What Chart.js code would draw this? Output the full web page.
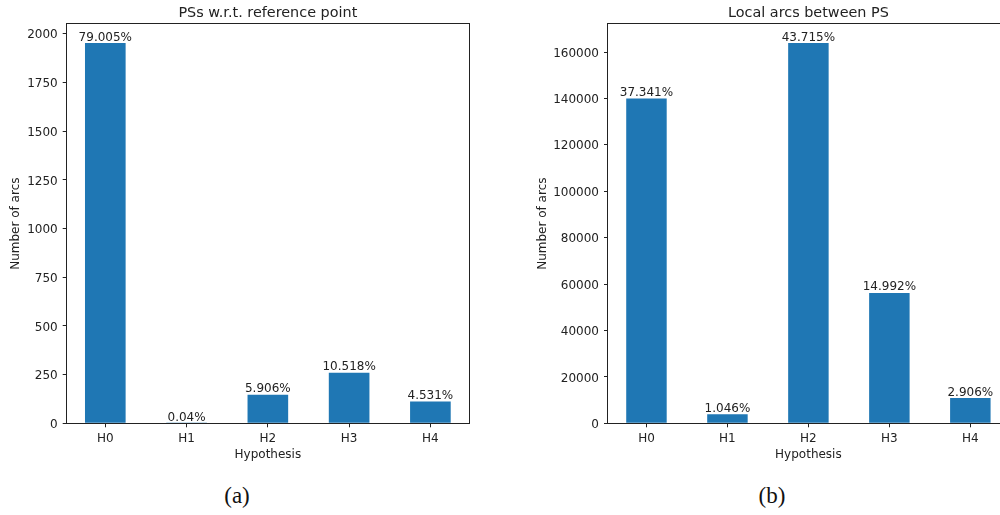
<!DOCTYPE html>
<html>
<head>
<meta charset="utf-8">
<script src="https://cdn.jsdelivr.net/npm/chart.js@4/dist/chart.umd.min.js"></script>
<style>
  html, body { margin: 0; padding: 0; background: #fff; overflow: hidden; }
  body { width: 1000px; height: 515px; position: relative; }
  .panel { position: absolute; top: 0; }
  .caption {
    position: absolute; top: 482px; width: 60px; margin-left: -30px;
    text-align: center; font-family: "Liberation Serif", serif; font-size: 23px;
    color: #111; line-height: 28px;
  }
</style>
</head>
<body>
<div class="panel" style="left:0px;width:500px;height:470px;"><canvas id="chartA"></canvas></div>
<div class="panel" style="left:500px;width:520px;height:470px;"><canvas id="chartB"></canvas></div>
<div class="caption" style="left:237px;">(a)</div>
<div class="caption" style="left:772px;">(b)</div>
<script>
// Hypothesis classes on the x axis
const categories = ['H0', 'H1', 'H2', 'H3', 'H4'];

// Arc counts per hypothesis: PS arcs to the reference point
const refPointArcs = [1953, 1, 146, 260, 112];
// Arc counts per hypothesis: local arcs between PS
const localArcs = [139991, 3921, 163888, 56205, 10895];

// Y tick values of each panel
const refPointTicks = [0, 250, 500, 750, 1000, 1250, 1500, 1750, 2000];
const localTicks = [0, 20000, 40000, 60000, 80000, 100000, 120000, 140000, 160000];

const refPointTitle = 'PSs w.r.t. reference point';
const localTitle = 'Local arcs between PS';
const xTitle = 'Hypothesis';
const yTitle = 'Number of arcs';

const FONT = 'DejaVu Sans';
const INK = '#222';
const TEXT_SIZE = 12;
const TITLE_SIZE = 14.4;
Chart.defaults.font.family = FONT;
Chart.defaults.color = INK;

// Percentage of the total, rounded to three decimals
function pctLabel(v, total) {
  return String(Math.round(v / total * 100 * 1000) / 1000) + '%';
}

// Writes each bar's share of the total just above the bar
const barLabels = {
  id: 'barLabels',
  afterDatasetsDraw(chart) {
    const ctx = chart.ctx;
    const values = chart.data.datasets[0].data.map(d => d.y);
    const total = values.reduce((a, b) => a + b, 0);
    const meta = chart.getDatasetMeta(0);
    ctx.save();
    ctx.font = TEXT_SIZE + 'px "' + FONT + '"';
    ctx.fillStyle = INK;
    ctx.textAlign = 'center';
    ctx.textBaseline = 'alphabetic';
    meta.data.forEach((bar, i) => {
      ctx.fillText(pctLabel(values[i], total), bar.x, bar.y - 2.5);
    });
    ctx.restore();
  }
};

// Closed frame around the plotting area
const frame = {
  id: 'frame',
  afterDraw(chart) {
    const a = chart.chartArea;
    const ctx = chart.ctx;
    ctx.save();
    ctx.strokeStyle = INK;
    ctx.lineWidth = 1;
    const l = Math.round(a.left) - 0.5, t = Math.round(a.top) - 0.5;
    const r = Math.round(a.right) + 0.5, b = Math.round(a.bottom) + 0.5;
    ctx.strokeRect(l, t, r - l, b - t);
    ctx.restore();
  }
};

function makeChart(id, title, values, yTicks, yAxisWidth, yTitleOffset, rightPad) {
  const points = values.map((v, i) => ({ x: i, y: v }));
  const yMax = Math.max(...values) * 1.05;
  const xMin = -0.25 - 0.05 * (categories.length - 0.5);
  const xMax = categories.length - 1 + 0.25 + 0.05 * (categories.length - 0.5);
  const titleLine = TITLE_SIZE * 1.2;
  return new Chart(document.getElementById(id), {
    type: 'bar',
    data: {
      datasets: [{
        data: points,
        backgroundColor: '#1f77b4',
        borderWidth: 0,
        categoryPercentage: 1,
        barPercentage: 0.5
      }]
    },
    options: {
      responsive: true,
      maintainAspectRatio: false,
      animation: false,
      devicePixelRatio: 1,
      layout: { padding: { left: 0, right: rightPad, top: 0, bottom: 6.7 } },
      plugins: {
        legend: { display: false },
        tooltip: { enabled: false },
        title: {
          display: true,
          text: title,
          fullSize: false,
          color: INK,
          font: { family: FONT, size: TITLE_SIZE, weight: 'normal', lineHeight: 1.2 },
          padding: { top: 13 - titleLine / 2, bottom: 24 - (13 - titleLine / 2) - titleLine }
        }
      },
      scales: {
        x: {
          type: 'linear',
          min: xMin,
          max: xMax,
          bounds: 'data',
          offset: false,
          grid: { offset: false, drawOnChartArea: false, drawTicks: true, tickLength: 4, color: INK, lineWidth: 1 },
          border: { display: false },
          afterBuildTicks(scale) { scale.ticks = categories.map((_, i) => ({ value: i })); },
          afterFit(scale) { scale.height = 40; },
          ticks: {
            padding: 4,
            maxRotation: 0,
            autoSkip: false,
            font: { size: TEXT_SIZE },
            callback: v => categories[v]
          },
          title: {
            display: true, text: xTitle,
            font: { size: TEXT_SIZE, lineHeight: 1.2 },
            padding: { top: 0, bottom: 1.2 }
          }
        },
        y: {
          min: 0,
          max: yMax,
          bounds: 'data',
          grid: { drawOnChartArea: false, drawTicks: true, tickLength: 4, color: INK, lineWidth: 1 },
          border: { display: false },
          afterBuildTicks(scale) { scale.ticks = yTicks.map(v => ({ value: v })); },
          afterFit(scale) { scale.width = yAxisWidth; },
          ticks: {
            padding: 5,
            labelOffset: 1.5,
            font: { size: TEXT_SIZE },
            callback: v => String(v)
          },
          title: {
            display: true, text: yTitle,
            font: { size: TEXT_SIZE, lineHeight: 1.2 },
            padding: { top: yTitleOffset, bottom: 0 }
          }
        }
      }
    },
    plugins: [barLabels, frame]
  });
}

makeChart('chartA', refPointTitle, refPointArcs, refPointTicks, 66.7, 8.8, 31);
makeChart('chartB', localTitle, localArcs, localTicks, 108, 35.5, 11.2);
</script>
</body>
</html>
